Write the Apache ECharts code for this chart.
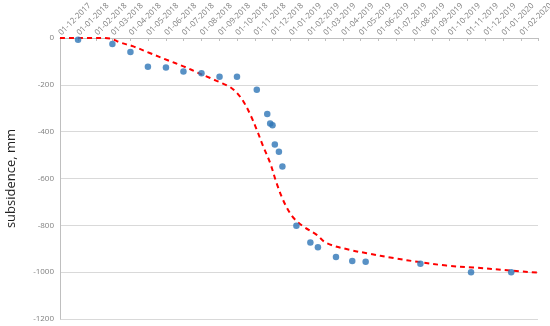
<!DOCTYPE html>
<html><head><meta charset="utf-8">
<script src="https://cdn.jsdelivr.net/npm/echarts@6/dist/echarts.min.js"></script>
<style>html,body{margin:0;padding:0;background:#fff}#c{width:550px;height:326px}</style>
</head><body><div id="c"></div>
<script>
var tickDates = ['2017-12-01','2018-01-01','2018-02-01','2018-03-01','2018-04-01','2018-05-01','2018-06-01','2018-07-01','2018-08-01','2018-09-01','2018-10-01','2018-11-01','2018-12-01','2019-01-01','2019-02-01','2019-03-01','2019-04-01','2019-05-01','2019-06-01','2019-07-01','2019-08-01','2019-09-01','2019-10-01','2019-11-01','2019-12-01','2020-01-01','2020-02-01'];
var axisEndDate = '2020-03-01';
var yTicks = [0,-200,-400,-600,-800,-1000,-1200];
var obsDates = ['2018-01-01','2018-03-01','2018-04-01','2018-05-01','2018-06-01','2018-07-01','2018-08-01','2018-09-01','2018-10-01','2018-11-04','2018-11-22','2018-11-27','2018-12-01','2018-12-05','2018-12-12','2018-12-18','2019-01-11','2019-02-04','2019-02-17','2019-03-20','2019-04-17','2019-05-10','2019-08-12','2019-11-07','2020-01-15'];
var obsValues = [-7,-26,-60,-123,-126,-143,-151,-165,-165,-221,-325,-365,-373,-455,-486,-549,-802,-873,-894,-935,-952,-956,-964,-1000,-1000];
var fitDates = ['2017-12-01','2018-02-07','2018-02-25','2018-03-14','2018-04-06','2018-05-04','2018-06-02','2018-07-01','2018-07-30','2018-08-16','2018-09-07','2018-09-19','2018-10-01','2018-10-12','2018-10-24','2018-11-04','2018-11-15','2018-11-27','2018-12-08','2018-12-19','2018-12-31','2019-01-09','2019-01-23','2019-02-15','2019-03-04','2019-04-13','2019-05-12','2019-06-27','2019-08-11','2019-09-26','2019-11-11','2020-01-13','2020-03-01'];
var fitValues = [0,0,-2,-19,-36,-64,-93,-121,-153,-171,-195,-209,-235,-271,-328,-392,-463,-534,-620,-691,-748,-776,-805,-841,-876,-905,-919,-940,-957,-972,-980,-993,-1002];

function ts(s){var p=s.split('-');return Date.UTC(+p[0],+p[1]-1,+p[2]);}
function pad(n){return (n<10?'0':'')+n;}
var labelTs = tickDates.map(ts);
var tickTs = labelTs.concat([ts(axisEndDate)]);
var chart = echarts.init(document.getElementById('c'));
chart.setOption({
  animation:false,
  grid:{left:60,right:12,top:38,bottom:7,containLabel:false,outerBoundsMode:'none'},
  xAxis:{
    type:'value', position:'top',
    min:tickTs[0], max:tickTs[tickTs.length-1],
    axisLine:{show:true,lineStyle:{color:'#bfbfbf',width:1}},
    axisTick:{show:true,inside:true,length:3,lineStyle:{color:'#bfbfbf'},customValues:tickTs},
    splitLine:{show:false},
    axisLabel:{customValues:labelTs,rotate:45,fontSize:8,color:'#7f7f7f',fontFamily:'Open Sans',margin:4,hideOverlap:false,showMinLabel:true,showMaxLabel:true,
      formatter:function(v){var d=new Date(v);return pad(d.getUTCDate())+'-'+pad(d.getUTCMonth()+1)+'-'+d.getUTCFullYear();}}
  },
  yAxis:{
    type:'value', min:yTicks[yTicks.length-1], max:yTicks[0], interval:200,
    name:'subsidence, mm', nameLocation:'middle', nameGap:42, nameRotate:90,
    nameTextStyle:{fontSize:13,color:'#222',fontFamily:'Open Sans'},
    axisLine:{show:true,lineStyle:{color:'#bfbfbf'}},
    axisTick:{show:false},
    splitLine:{show:true,lineStyle:{color:'#d9d9d9',width:1}},
    axisLabel:{fontSize:8,color:'#7f7f7f',fontFamily:'Open Sans',margin:6,formatter:function(v){return String(v);}}
  },
  series:[
    {type:'line',data:fitDates.map(function(d,i){return [ts(d),fitValues[i]];}),smooth:0.35,showSymbol:false,
     lineStyle:{color:'#ff0000',width:2,type:[5,4]},z:2},
    {type:'scatter',data:obsDates.map(function(d,i){return [ts(d),obsValues[i]];}),symbolSize:6.5,
     itemStyle:{color:'#2e75b6'},z:3}
  ]
});
</script></body></html>
